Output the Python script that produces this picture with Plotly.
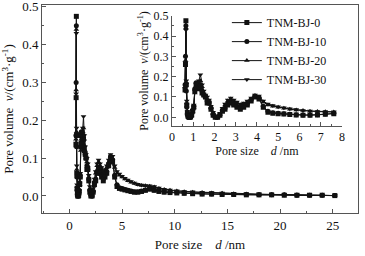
import plotly.graph_objects as go

pore_size = [0.62, 0.64, 0.66, 0.68, 0.70, 0.73, 0.76, 0.80, 0.84, 0.88, 0.93, 0.98, 1.03, 1.08,
             1.14, 1.20, 1.27, 1.34, 1.42, 1.50, 1.58, 1.66, 1.75, 1.84, 1.94, 2.04, 2.15, 2.26,
             2.38, 2.50, 2.63, 2.77, 2.91, 3.06, 3.22, 3.38, 3.55, 3.73, 3.91, 4.10, 4.30, 4.52,
             4.75, 5.00, 5.27, 5.55, 5.85, 6.17, 6.50, 6.85, 7.22, 7.62, 8.05, 8.50, 9.00, 9.55,
             10.2, 10.9, 11.7, 12.6, 13.5, 14.5, 15.6, 16.8, 18.0, 19.2, 20.4, 21.6, 22.8, 24.0, 25.2]

bj0 = [0.135, 0.26, 0.475, 0.16, 0.06, 0.02, 0.005, 0.0, 0.0, 0.002, 0.01, 0.03, 0.05, 0.13,
       0.16, 0.15, 0.14, 0.15, 0.12, 0.11, 0.10, 0.07, 0.07, 0.04, 0.01, 0.0, 0.0, 0.01,
       0.03, 0.04, 0.06, 0.07, 0.06, 0.05, 0.04, 0.05, 0.06, 0.08, 0.10, 0.09, 0.05, 0.025,
       0.02, 0.018, 0.016, 0.014, 0.012, 0.01, 0.01, 0.012, 0.015, 0.018, 0.015, 0.012, 0.01, 0.009,
       0.008, 0.007, 0.006, 0.005, 0.005, 0.004, 0.004, 0.003, 0.003, 0.003, 0.002, 0.002, 0.002, 0.002, 0.001]

bj10 = [0.16, 0.30, 0.45, 0.13, 0.05, 0.015, 0.003, 0.0, 0.0, 0.003, 0.015, 0.035, 0.055, 0.14,
        0.17, 0.16, 0.15, 0.16, 0.13, 0.11, 0.10, 0.08, 0.07, 0.045, 0.015, 0.002, 0.0, 0.012,
        0.035, 0.045, 0.065, 0.075, 0.065, 0.055, 0.045, 0.055, 0.065, 0.085, 0.105, 0.095, 0.055, 0.03,
        0.022, 0.02, 0.017, 0.015, 0.013, 0.011, 0.011, 0.013, 0.016, 0.019, 0.016, 0.013, 0.011, 0.01,
        0.009, 0.008, 0.007, 0.006, 0.005, 0.005, 0.004, 0.004, 0.003, 0.003, 0.003, 0.002, 0.002, 0.002, 0.001]

bj20 = [0.15, 0.28, 0.44, 0.17, 0.07, 0.025, 0.008, 0.002, 0.0, 0.004, 0.012, 0.03, 0.05, 0.12,
        0.15, 0.16, 0.17, 0.18, 0.15, 0.12, 0.10, 0.09, 0.08, 0.05, 0.02, 0.004, 0.0, 0.015,
        0.04, 0.06, 0.08, 0.09, 0.08, 0.07, 0.06, 0.065, 0.075, 0.09, 0.105, 0.10, 0.075, 0.06,
        0.055, 0.05, 0.045, 0.04, 0.036, 0.033, 0.03, 0.028, 0.027, 0.026, 0.024, 0.02, 0.017, 0.015,
        0.013, 0.011, 0.01, 0.009, 0.008, 0.007, 0.006, 0.005, 0.004, 0.004, 0.003, 0.003, 0.002, 0.002, 0.001]

bj30 = [0.14, 0.27, 0.43, 0.18, 0.08, 0.03, 0.01, 0.003, 0.0, 0.005, 0.015, 0.035, 0.06, 0.13,
        0.16, 0.17, 0.18, 0.21, 0.16, 0.13, 0.11, 0.10, 0.085, 0.055, 0.025, 0.006, 0.0, 0.02,
        0.045, 0.065, 0.085, 0.095, 0.085, 0.075, 0.065, 0.07, 0.08, 0.095, 0.11, 0.105, 0.08, 0.065,
        0.058, 0.052, 0.047, 0.042, 0.038, 0.034, 0.031, 0.029, 0.028, 0.027, 0.025, 0.021, 0.018, 0.016,
        0.014, 0.012, 0.011, 0.01, 0.009, 0.008, 0.007, 0.006, 0.005, 0.004, 0.004, 0.003, 0.003, 0.002, 0.001]

series_names = ["TNM-BJ-0", "TNM-BJ-10", "TNM-BJ-20", "TNM-BJ-30"]
series_values = [bj0, bj10, bj20, bj30]
symbols = ["square", "circle", "triangle-up", "triangle-down"]

FONT = "Liberation Serif"
INK = "#111111"
AX = "#555555"

fig = go.Figure()
for name, vals, sym in zip(series_names, series_values, symbols):
    # main plot
    fig.add_trace(go.Scatter(x=pore_size, y=vals, mode="lines+markers", name=name,
                             line=dict(color=INK, width=1),
                             marker=dict(symbol=sym, size=5, color=INK),
                             xaxis="x", yaxis="y", showlegend=False))
    # inset
    inset_x = [x for x in pore_size if x <= 8.0]
    inset_y = vals[:len(inset_x)]
    fig.add_trace(go.Scatter(x=inset_x, y=inset_y, mode="lines+markers", name=name,
                             line=dict(color=INK, width=1),
                             marker=dict(symbol=sym, size=5, color=INK),
                             xaxis="x2", yaxis="y2", showlegend=True))

ytitle = "Pore volume  <i>v</i>/(cm<sup>3</sup>·g<sup>-1</sup>)"
xtitle = "Pore size    <i>d</i> /nm"

common = dict(showline=True, linecolor=AX, linewidth=1, ticks="inside", ticklen=4,
              tickcolor=AX, showgrid=False, zeroline=False, automargin=False,
              ticklabeloverflow="allow",
              tickfont=dict(family=FONT, size=13, color=INK))

fig.update_layout(
    width=365, height=256,
    margin=dict(l=42, r=7, t=5, b=43),
    paper_bgcolor="white", plot_bgcolor="white",
    font=dict(family=FONT, color=INK, size=13),
    xaxis=dict(domain=[0, 1], range=[-2.6, 27.4], tickvals=[0, 5, 10, 15, 20, 25],
               mirror=True, minor=dict(dtick=2.5, ticks="inside", ticklen=2, tickcolor=AX),
               title=dict(text=xtitle, font=dict(family=FONT, size=13), standoff=8),
               **common),
    yaxis=dict(domain=[0, 1], range=[-0.045, 0.505], tickvals=[0, 0.1, 0.2, 0.3, 0.4, 0.5],
               tickformat=".1f", mirror=True,
               minor=dict(dtick=0.05, ticks="inside", ticklen=2, tickcolor=AX),
               title=dict(text=ytitle, font=dict(family=FONT, size=13), standoff=6),
               **common),
    xaxis2=dict(domain=[0.411, 0.949], anchor="y2", range=[0, 8], dtick=1,
                minor=dict(dtick=0.5, ticks="inside", ticklen=2, tickcolor=AX),
                title=dict(text=xtitle, font=dict(family=FONT, size=12), standoff=2),
                **{**common, "tickfont": dict(family=FONT, size=12, color=INK)}),
    yaxis2=dict(domain=[0.418, 0.9486], anchor="x2", range=[-0.043, 0.5],
                tickvals=[0, 0.1, 0.2, 0.3, 0.4, 0.5], tickformat=".1f",
                minor=dict(dtick=0.05, ticks="inside", ticklen=2, tickcolor=AX),
                title=dict(text=ytitle, font=dict(family=FONT, size=12), standoff=2),
                **{**common, "tickfont": dict(family=FONT, size=12, color=INK)}),
    legend=dict(x=0.585, y=0.985, xanchor="left", yanchor="top",
                bgcolor="rgba(0,0,0,0)", font=dict(family=FONT, size=12, color=INK),
                tracegroupgap=0, itemwidth=30),
)

fig.write_html("out.html", config={"displayModeBar": False},
               post_script="document.body.style.margin='0';")
